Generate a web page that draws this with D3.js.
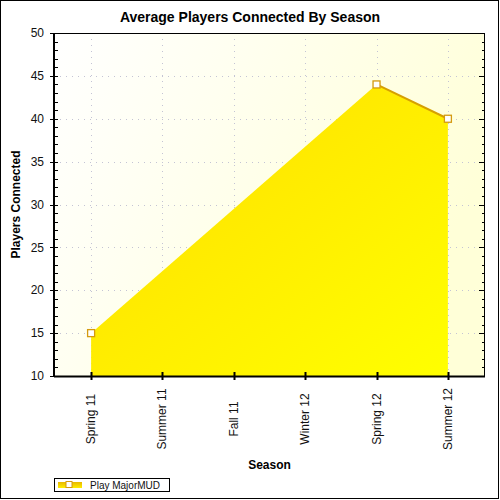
<!DOCTYPE html>
<html>
<head>
<meta charset="utf-8">
<script src="https://cdn.jsdelivr.net/npm/d3@7"></script>
<style>
  body { margin: 0; background: #fff; }
  text { font-family: "Liberation Sans", Arial, sans-serif; }
</style>
</head>
<body>
<svg id="chart" width="500" height="500"></svg>
<script>
const seasons = ["Spring 11", "Summer 11", "Fall 11", "Winter 12", "Spring 12", "Summer 12"];
const players = [15, null, null, null, 44, 40];
const seriesName = "Play MajorMUD";
const yDomain = [10, 50];

const svg = d3.select("#chart");
const plot = { left: 54, right: 485, top: 33, bottom: 376 };

const data = seasons.map((s, i) => ({ season: s, value: players[i] }));
const valid = data.filter(d => d.value != null);

const x = d3.scalePoint().domain(seasons).range([plot.left, plot.right]).padding(0.52);
const y = d3.scaleLinear().domain(yDomain).range([plot.bottom, plot.top]);

const defs = svg.append("defs");
const bg = defs.append("linearGradient").attr("id", "bg")
  .attr("x1", 0).attr("y1", 0).attr("x2", 1).attr("y2", 0.4);
bg.append("stop").attr("offset", "0%").attr("stop-color", "#ffffff");
bg.append("stop").attr("offset", "100%").attr("stop-color", "#ffffd8");

const fill = defs.append("linearGradient").attr("id", "fill")
  .attr("x1", 0).attr("y1", 0).attr("x2", 1).attr("y2", 1);
fill.append("stop").attr("offset", "0%").attr("stop-color", "#ffdc00");
fill.append("stop").attr("offset", "100%").attr("stop-color", "#ffff00");

const legFill = defs.append("linearGradient").attr("id", "legfill")
  .attr("x1", 0).attr("y1", 0).attr("x2", 0).attr("y2", 1);
legFill.append("stop").attr("offset", "0%").attr("stop-color", "#e8b800");
legFill.append("stop").attr("offset", "100%").attr("stop-color", "#ffee00");

// outer frame
svg.append("rect")
  .attr("x", 0.5).attr("y", 0.5).attr("width", 498).attr("height", 498)
  .attr("fill", "#fff").attr("stroke", "#000");

// plot background
svg.append("rect")
  .attr("x", plot.left).attr("y", plot.top)
  .attr("width", plot.right - plot.left).attr("height", plot.bottom - plot.top)
  .attr("fill", "url(#bg)");

// grid
const grid = svg.append("g")
  .attr("stroke", "#c4c4d4").attr("stroke-width", 1).attr("stroke-dasharray", "1,5");
grid.selectAll(".gy")
  .data(d3.range(15, 50, 5))
  .join("line")
  .attr("x1", plot.left).attr("x2", plot.right)
  .attr("y1", d => Math.round(y(d)) + 0.5).attr("y2", d => Math.round(y(d)) + 0.5);
grid.selectAll(".gx")
  .data(seasons)
  .join("line")
  .attr("x1", d => Math.round(x(d)) + 0.5).attr("x2", d => Math.round(x(d)) + 0.5)
  .attr("y1", plot.top).attr("y2", plot.bottom);

// area
const area = d3.area()
  .x(d => x(d.season))
  .y0(y(yDomain[0]))
  .y1(d => y(d.value));
svg.append("path").datum(valid).attr("d", area).attr("fill", "url(#fill)");

// line (only joins adjacent seasons)
const line = d3.line()
  .defined(d => d.value != null)
  .x(d => x(d.season))
  .y(d => y(d.value));
svg.append("path").datum(data).attr("d", line)
  .attr("fill", "none").attr("stroke", "#d6a000").attr("stroke-width", 2);

// markers
svg.selectAll(".mk")
  .data(valid)
  .join("rect")
  .attr("x", d => x(d.season) - 3.5).attr("y", d => y(d.value) - 3.5)
  .attr("width", 7).attr("height", 7)
  .attr("fill", "#fff").attr("stroke", "#d49a10").attr("stroke-width", 1.3);

// plot border
const axes = svg.append("g").attr("stroke", "#000").attr("fill", "none");
axes.append("rect")
  .attr("x", plot.left + 0.5).attr("y", plot.top + 0.5)
  .attr("width", plot.right - plot.left - 1).attr("height", plot.bottom - plot.top)
  .attr("stroke-width", 1);
axes.append("line")
  .attr("x1", plot.left).attr("x2", plot.right)
  .attr("y1", plot.bottom + 0.5).attr("y2", plot.bottom + 0.5).attr("stroke-width", 2);
axes.append("line")
  .attr("x1", plot.left).attr("x2", plot.left)
  .attr("y1", plot.top).attr("y2", plot.bottom).attr("stroke-width", 2);

// y ticks (left and right)
const minor = d3.range(yDomain[0], yDomain[1] + 1, 1);
axes.selectAll(".yt")
  .data(minor)
  .join("line")
  .attr("x1", d => d % 5 === 0 ? plot.left - 4 : plot.left - 1)
  .attr("x2", plot.left + 4)
  .attr("y1", d => Math.round(y(d)) + 0.5).attr("y2", d => Math.round(y(d)) + 0.5);
axes.selectAll(".yr")
  .data(minor)
  .join("line")
  .attr("x1", d => d % 5 === 0 ? plot.right - 6 : plot.right - 3)
  .attr("x2", plot.right)
  .attr("y1", d => Math.round(y(d)) + 0.5).attr("y2", d => Math.round(y(d)) + 0.5);

// x ticks
axes.selectAll(".xt")
  .data(seasons)
  .join("line")
  .attr("x1", d => Math.round(x(d)) + 0.5).attr("x2", d => Math.round(x(d)) + 0.5)
  .attr("y1", plot.bottom - 4).attr("y2", plot.bottom + 4)
  .attr("stroke-width", 2);

// y tick labels
svg.selectAll(".yl")
  .data(y.ticks(8))
  .join("text")
  .attr("x", plot.left - 10).attr("y", d => y(d))
  .attr("dy", "0.35em")
  .attr("text-anchor", "end")
  .attr("font-size", 12).attr("fill", "#111")
  .text(d => d);

// x tick labels
svg.selectAll(".xl")
  .data(seasons)
  .join("text")
  .attr("transform", d => `translate(${x(d) + 4},419) rotate(-90)`)
  .attr("text-anchor", "middle")
  .attr("font-size", 12).attr("fill", "#111")
  .text(d => d);

// titles
svg.append("text")
  .attr("x", 250).attr("y", 22)
  .attr("text-anchor", "middle")
  .attr("font-size", 14).attr("font-weight", "bold")
  .text("Average Players Connected By Season");

svg.append("text")
  .attr("x", (plot.left + plot.right) / 2).attr("y", 469)
  .attr("text-anchor", "middle")
  .attr("font-size", 12).attr("font-weight", "bold")
  .text("Season");

svg.append("text")
  .attr("transform", `translate(20,${(plot.top + plot.bottom) / 2}) rotate(-90)`)
  .attr("text-anchor", "middle")
  .attr("font-size", 12).attr("font-weight", "bold")
  .text("Players Connected");

// legend
const legend = svg.append("g");
legend.append("rect")
  .attr("x", 54.5).attr("y", 478.5).attr("width", 115).attr("height", 13)
  .attr("fill", "#fff").attr("stroke", "#000");
legend.append("rect")
  .attr("x", 58).attr("y", 482).attr("width", 24).attr("height", 6)
  .attr("fill", "url(#legfill)");
legend.append("rect")
  .attr("x", 66).attr("y", 481.5).attr("width", 6).attr("height", 6)
  .attr("fill", "#fff").attr("stroke", "#d49a10");
legend.append("text")
  .attr("x", 90).attr("y", 488.5)
  .attr("font-size", 10).attr("fill", "#111")
  .text(seriesName);
</script>
</body>
</html>
